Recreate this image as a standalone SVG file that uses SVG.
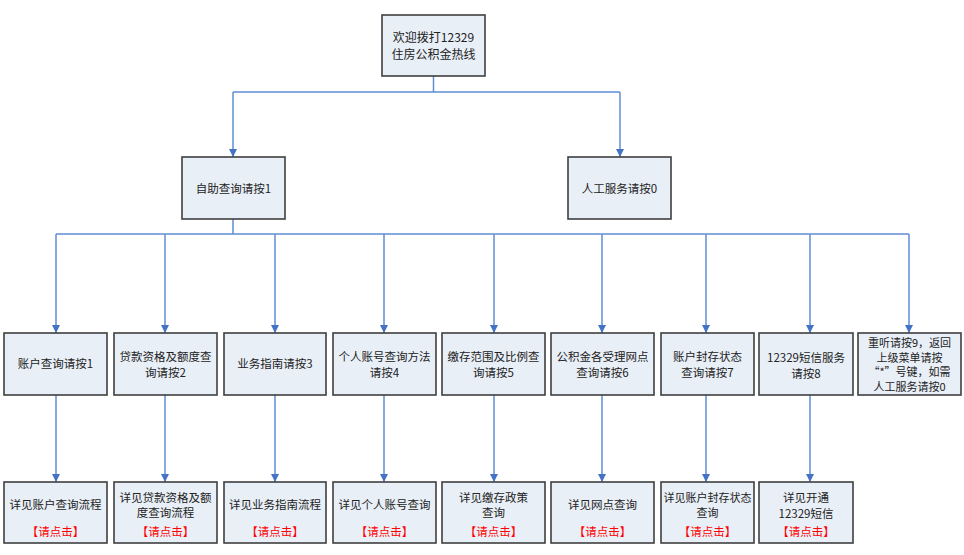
<svg xmlns="http://www.w3.org/2000/svg" width="964" height="555" viewBox="0 0 964 555">
<defs>
<marker id="arr" viewBox="0 0 10 10" refX="10" refY="5" markerWidth="8" markerHeight="8" markerUnits="userSpaceOnUse" orient="auto">
<path d="M0,0 L10,5 L0,10 Z" fill="#4472C4"/>
</marker>
</defs>
<style>
.box{fill:#E9EFF7;stroke:#3F3F3F;stroke-width:1.6}
.t{font-family:"Noto Sans CJK SC","Liberation Sans",sans-serif;font-size:11.5px;fill:#222;text-anchor:middle;dominant-baseline:central}
.r{fill:#FF0000}
.c{fill:none;stroke:#5F8FD3;stroke-width:1.5}
.a{marker-end:url(#arr)}
</style>
<rect width="964" height="555" fill="#fff"/>
<g id="connectors">
<path class="c" d="M433.5,76 V92 M233,92 H620"/>
<path class="c a" d="M233,92 V157"/>
<path class="c a" d="M620,92 V157"/>
<path class="c" d="M233,219 V234 M56,234 H909"/>
<path class="c a" d="M56,234 V333"/>
<path class="c a" d="M165,234 V333"/>
<path class="c a" d="M275,234 V333"/>
<path class="c a" d="M384,234 V333"/>
<path class="c a" d="M494,234 V333"/>
<path class="c a" d="M602,234 V333"/>
<path class="c a" d="M706,234 V333"/>
<path class="c a" d="M810,234 V333"/>
<path class="c a" d="M909,234 V333"/>
<path class="c a" d="M56,395 V482"/>
<path class="c a" d="M165,395 V482"/>
<path class="c a" d="M275,395 V482"/>
<path class="c a" d="M384,395 V482"/>
<path class="c a" d="M494,395 V482"/>
<path class="c a" d="M602,395 V482"/>
<path class="c a" d="M706,395 V482"/>
<path class="c a" d="M810,395 V482"/>
</g>
<g id="root">
<rect class="box" x="382" y="15" width="103" height="61"/>
<text class="t" x="433.5" y="36" style="font-size:12px">欢迎拨打12329</text>
<text class="t" x="433.5" y="53" style="font-size:12px">住房公积金热线</text>
</g>
<g id="self">
<rect class="box" x="182" y="157" width="103" height="62"/>
<text class="t" x="233.5" y="188">自助查询请按1</text>
</g>
<g id="manual">
<rect class="box" x="568" y="157" width="103" height="62"/>
<text class="t" x="619.5" y="188">人工服务请按0</text>
</g>
<g id="n1">
<rect class="box" x="4" y="333" width="103" height="62"/>
<text class="t" x="55.5" y="363">账户查询请按1</text>
</g>
<g id="n2">
<rect class="box" x="114" y="333" width="103" height="62"/>
<text class="t" x="165.5" y="356">贷款资格及额度查</text>
<text class="t" x="165.5" y="372">询请按2</text>
</g>
<g id="n3">
<rect class="box" x="224" y="333" width="102" height="62"/>
<text class="t" x="275" y="363">业务指南请按3</text>
</g>
<g id="n4">
<rect class="box" x="333" y="333" width="103" height="62"/>
<text class="t" x="384.5" y="356">个人账号查询方法</text>
<text class="t" x="384.5" y="372">请按4</text>
</g>
<g id="n5">
<rect class="box" x="442" y="333" width="103" height="62"/>
<text class="t" x="493.5" y="356">缴存范围及比例查</text>
<text class="t" x="493.5" y="372">询请按5</text>
</g>
<g id="n6">
<rect class="box" x="551" y="333" width="103" height="62"/>
<text class="t" x="602.5" y="356">公积金各受理网点</text>
<text class="t" x="602.5" y="372">查询请按6</text>
</g>
<g id="n7">
<rect class="box" x="661" y="333" width="93" height="62"/>
<text class="t" x="707.5" y="356">账户封存状态</text>
<text class="t" x="707.5" y="372">查询请按7</text>
</g>
<g id="n8">
<rect class="box" x="759" y="333" width="94" height="62"/>
<text class="t" x="806" y="357">12329短信服务</text>
<text class="t" x="806" y="373">请按8</text>
</g>
<g id="n9">
<rect class="box" x="858" y="333" width="103" height="62"/>
<text class="t" x="909.5" y="342" style="font-size:11px">重听请按9，返回</text>
<text class="t" x="909.5" y="356.5" style="font-size:11px">上级菜单请按</text>
<text class="t" x="909.5" y="371" style="font-size:11px">“*”号键，如需</text>
<text class="t" x="909.5" y="385.5" style="font-size:11px">人工服务请按0</text>
</g>
<g id="d1">
<rect class="box" x="4" y="482" width="103" height="61"/>
<text class="t" x="55.5" y="504">详见账户查询流程</text>
<text class="t r" x="55.5" y="531">【请点击】</text>
</g>
<g id="d2">
<rect class="box" x="114" y="482" width="103" height="61"/>
<text class="t" x="165.5" y="497">详见贷款资格及额</text>
<text class="t" x="165.5" y="512">度查询流程</text>
<text class="t r" x="165.5" y="531">【请点击】</text>
</g>
<g id="d3">
<rect class="box" x="224" y="482" width="102" height="61"/>
<text class="t" x="275" y="504">详见业务指南流程</text>
<text class="t r" x="275" y="531">【请点击】</text>
</g>
<g id="d4">
<rect class="box" x="333" y="482" width="103" height="61"/>
<text class="t" x="384.5" y="504">详见个人账号查询</text>
<text class="t r" x="384.5" y="531">【请点击】</text>
</g>
<g id="d5">
<rect class="box" x="442" y="482" width="103" height="61"/>
<text class="t" x="493.5" y="497">详见缴存政策</text>
<text class="t" x="493.5" y="512">查询</text>
<text class="t r" x="493.5" y="531">【请点击】</text>
</g>
<g id="d6">
<rect class="box" x="551" y="482" width="103" height="61"/>
<text class="t" x="602.5" y="504">详见网点查询</text>
<text class="t r" x="602.5" y="531">【请点击】</text>
</g>
<g id="d7">
<rect class="box" x="661" y="482" width="93" height="61"/>
<text class="t" x="707.5" y="497" style="font-size:11px">详见账户封存状态</text>
<text class="t" x="707.5" y="512" style="font-size:11px">查询</text>
<text class="t r" x="707.5" y="531">【请点击】</text>
</g>
<g id="d8">
<rect class="box" x="759" y="482" width="94" height="61"/>
<text class="t" x="806" y="497">详见开通</text>
<text class="t" x="806" y="513">12329短信</text>
<text class="t r" x="806" y="531">【请点击】</text>
</g>
</svg>
